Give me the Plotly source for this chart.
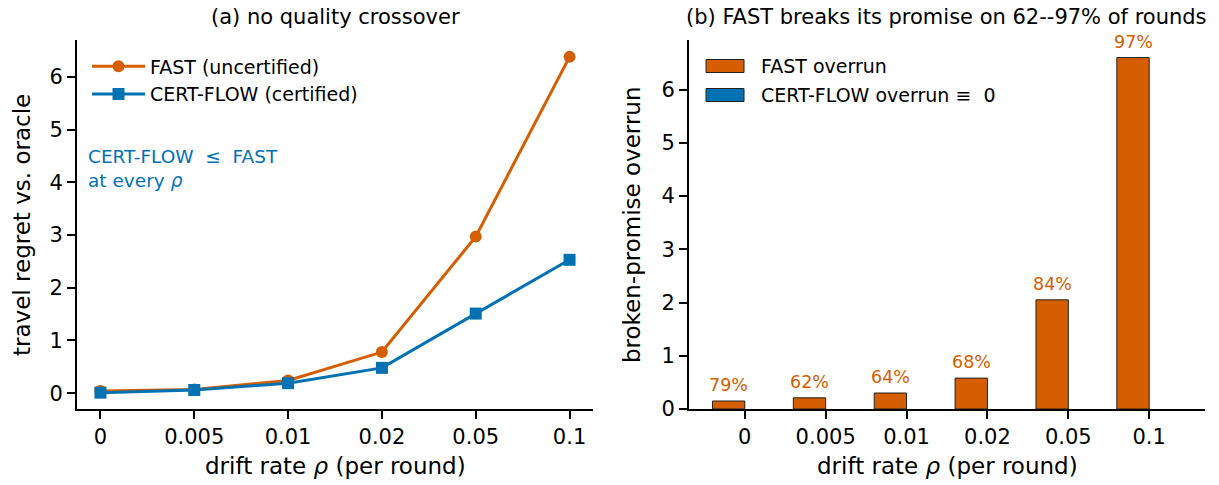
import plotly.graph_objects as go

# ---- data ----
drift_labels = ["0", "0.005", "0.01", "0.02", "0.05", "0.1"]
fast_regret = [0.04, 0.07, 0.24, 0.78, 2.97, 6.38]
cert_regret = [0.01, 0.06, 0.19, 0.48, 1.51, 2.53]
fast_overrun = [0.15, 0.21, 0.30, 0.58, 2.05, 6.60]
cert_overrun = [0, 0, 0, 0, 0, 0]
broken_pct = ["79%", "62%", "64%", "68%", "84%", "97%"]

ORANGE = "#D55E00"
BLUE = "#0072B2"
FONT = "DejaVu Sans"
W, H = 1219, 485
NB = "\u00a0"


def px(x):
    return x / W


def py(y):
    return 1 - y / H


fig = go.Figure()

fig.add_trace(go.Scatter(
    x=drift_labels, y=fast_regret, mode="lines+markers", name="FAST (uncertified)",
    line=dict(color=ORANGE, width=3), marker=dict(symbol="circle", size=12, color=ORANGE),
    xaxis="x", yaxis="y", legend="legend"))
fig.add_trace(go.Scatter(
    x=drift_labels, y=cert_regret, mode="lines+markers", name="CERT-FLOW (certified)",
    line=dict(color=BLUE, width=3), marker=dict(symbol="square", size=12, color=BLUE),
    xaxis="x", yaxis="y", legend="legend"))

fig.add_trace(go.Bar(
    x=drift_labels, y=fast_overrun, name="FAST overrun", width=0.4, offset=-0.4,
    marker=dict(color=ORANGE, line=dict(color="#222222", width=1)),
    xaxis="x2", yaxis="y2", showlegend=False))
fig.add_trace(go.Bar(
    x=drift_labels, y=cert_overrun, name="CERT-FLOW overrun \u2261 0", width=0.4, offset=0,
    marker=dict(color=BLUE, line=dict(width=0)),
    xaxis="x2", yaxis="y2", showlegend=False))

for i, (v, t) in enumerate(zip(fast_overrun, broken_pct)):
    fig.add_annotation(x=i - 0.2, y=v, xref="x2", yref="y2",
                       text=t, showarrow=False, yanchor="bottom", yshift=4,
                       font=dict(family=FONT, size=17.5, color=ORANGE))

axis_common = dict(showline=True, linecolor="black", linewidth=1.8, ticks="outside",
                   ticklen=8, tickwidth=1.8, tickcolor="black", showgrid=False,
                   zeroline=False, mirror=False, automargin=False,
                   tickfont=dict(family=FONT, size=21, color="black"))

fig.update_layout(
    template="none",
    width=W, height=H,
    margin=dict(l=0, r=0, t=0, b=0, autoexpand=False),
    plot_bgcolor="white", paper_bgcolor="white",
    barmode="overlay",
    xaxis=dict(domain=[px(77), px(593)], type="category", range=[-0.25, 5.25],
               anchor="y", **axis_common),
    yaxis=dict(domain=[py(409), py(40)], range=[-0.3, 6.7], dtick=1, tick0=0,
               anchor="x", **axis_common),
    xaxis2=dict(domain=[px(689), px(1205)], type="category", range=[-0.69, 5.69],
                anchor="y2", **axis_common),
    yaxis2=dict(domain=[py(409), py(40)], range=[0, 6.93], dtick=1, tick0=0,
                anchor="x2", **axis_common),
    legend=dict(x=px(87), y=py(47.5), xanchor="left", yanchor="top",
                bgcolor="rgba(0,0,0,0)", font=dict(family=FONT, size=19, color="black"),
                tracegroupgap=0, itemwidth=53),
    font=dict(family=FONT, color="black"),
)

# manual legend for bar panel (patches + labels)
bar_legend = [("FAST overrun", ORANGE, 66),
              ("CERT-FLOW overrun" + NB + "\u2261" + NB + NB + "0", BLUE, 95)]
for name, col, yc in bar_legend:
    fig.add_shape(type="rect", xref="paper", yref="paper",
                  x0=px(706), x1=px(744), y0=py(yc + 6.5), y1=py(yc - 6.5),
                  fillcolor=col, line=dict(color="#222222", width=1))
    fig.add_annotation(x=px(759), y=py(yc), xref="paper", yref="paper", text=name,
                       showarrow=False, xanchor="left", yanchor="middle",
                       font=dict(family=FONT, size=19, color="black"))

ann = [
    dict(x=px(335), y=py(17), text="(a) no quality crossover", size=21),
    dict(x=px(946), y=py(17), text="(b) FAST breaks its promise on 62--97% of rounds", size=21),
    dict(x=px(335), y=py(466), text="drift rate <i>\u03c1</i> (per round)", size=23),
    dict(x=px(947), y=py(466), text="drift rate <i>\u03c1</i> (per round)", size=23),
]
for a in ann:
    fig.add_annotation(x=a["x"], y=a["y"], xref="paper", yref="paper", text=a["text"],
                       showarrow=False, xanchor="center", yanchor="middle",
                       font=dict(family=FONT, size=a["size"], color="black"))

fig.add_annotation(x=px(22), y=py(225), xref="paper", yref="paper",
                   text="travel regret vs. oracle", textangle=-90, showarrow=False,
                   xanchor="center", yanchor="middle",
                   font=dict(family=FONT, size=23, color="black"))
fig.add_annotation(x=px(632), y=py(225), xref="paper", yref="paper",
                   text="broken-promise overrun", textangle=-90, showarrow=False,
                   xanchor="center", yanchor="middle",
                   font=dict(family=FONT, size=23, color="black"))

fig.add_annotation(x=px(86), y=py(168), xref="paper", yref="paper",
                   text="CERT-FLOW" + NB + NB + "\u2264" + NB + NB + "FAST<br>at every <i>\u03c1</i>",
                   showarrow=False, xanchor="left", yanchor="middle", align="left",
                   font=dict(family=FONT, size=18.5, color=BLUE))

fig.write_html("out.html", config={"displayModeBar": False},
               post_script="document.body.style.margin='0';document.body.style.padding='0';")
